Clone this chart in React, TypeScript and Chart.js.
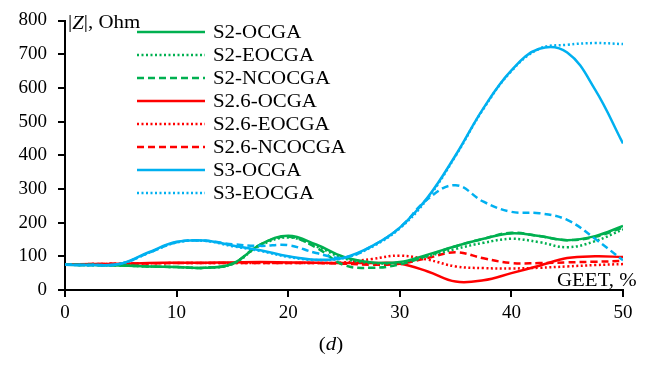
import { useEffect, useRef } from "react";
import { Chart, registerables } from "chart.js";

Chart.register(...registerables);

// GEET content, %
const geet = [0, 2.5, 5, 7.5, 10, 12.5, 15, 17.5, 20, 22.5, 25, 27.5, 30, 32.5, 35, 37.5, 40, 42.5, 45, 47.5, 50];

// |Z|, Ohm
const s2Ocga = [75, 74, 73, 70, 68, 66, 78, 135, 161, 135, 98, 82, 83, 105, 130, 152, 168, 160, 148, 160, 190];
const s2Eocga = [75, 74, 73, 70, 68, 66, 77, 132, 156, 130, 94, 80, 82, 100, 122, 140, 152, 142, 127, 145, 180];
const s2Ncocga = [75, 74, 73, 70, 68, 66, 78, 135, 158, 126, 74, 66, 76, 102, 130, 152, 170, 160, 148, 158, 185];
const s26Ocga = [76, 77, 78, 80, 81, 81, 82, 83, 82, 81, 80, 80, 78, 55, 25, 29, 50, 72, 95, 100, 98];
const s26Eocga = [76, 77, 78, 79, 80, 80, 80, 80, 80, 80, 82, 92, 102, 90, 70, 65, 64, 66, 70, 74, 77];
const s26Ncocga = [76, 77, 78, 79, 80, 80, 80, 80, 80, 80, 78, 75, 78, 95, 112, 94, 80, 80, 82, 84, 86];
const s3Ocga = [75, 74, 78, 112, 143, 147, 132, 118, 100, 90, 96, 130, 185, 275, 400, 540, 652, 716, 705, 595, 435];
const s3Eocga = [75, 74, 78, 110, 141, 146, 130, 116, 98, 89, 95, 128, 183, 272, 398, 538, 650, 716, 728, 733, 730];
const s3Ncocga = [75, 74, 78, 110, 142, 146, 136, 131, 133, 110, 96, 130, 185, 270, 311, 262, 232, 228, 208, 152, 88];

const xTicks = [0, 10, 20, 30, 40, 50];
const yTicks = [0, 100, 200, 300, 400, 500, 600, 700, 800];

const GREEN = "#00B050";
const RED = "#FF0000";
const BLUE = "#00B0F0";
const SERIF = '"Liberation Serif", "Times New Roman", serif';
const FONT_SIZE = 19;
const TEXT_STRETCH = 1.1;

const SOLID: number[] = [];
const DOTTED = [2, 2.5];
const DASHED = [7, 4];

type Series = { label: string; values: number[]; color: string; dash: number[]; inLegend: boolean; order: number };

const series: Series[] = [
  { label: "S2-OCGA", values: s2Ocga, color: GREEN, dash: SOLID, inLegend: true, order: 2 },
  { label: "S2-EOCGA", values: s2Eocga, color: GREEN, dash: DOTTED, inLegend: true, order: 2 },
  { label: "S2-NCOCGA", values: s2Ncocga, color: GREEN, dash: DASHED, inLegend: true, order: 2 },
  { label: "S2.6-OCGA", values: s26Ocga, color: RED, dash: SOLID, inLegend: true, order: 3 },
  { label: "S2.6-EOCGA", values: s26Eocga, color: RED, dash: DOTTED, inLegend: true, order: 3 },
  { label: "S2.6-NCOCGA", values: s26Ncocga, color: RED, dash: DASHED, inLegend: true, order: 3 },
  { label: "S3-OCGA", values: s3Ocga, color: BLUE, dash: SOLID, inLegend: true, order: 1 },
  { label: "S3-EOCGA", values: s3Eocga, color: BLUE, dash: DOTTED, inLegend: true, order: 1 },
  { label: "S3-NCOCGA", values: s3Ncocga, color: BLUE, dash: DASHED, inLegend: false, order: 1 },
];

type Run = { text: string; italic?: boolean };

// Draws a line of mixed upright/italic text, slightly widened like the figure's serif face.
function drawRuns(ctx: CanvasRenderingContext2D, x: number, y: number, runs: Run[], align: "left" | "center" = "left") {
  const fontFor = (r: Run) => `${r.italic ? "italic " : ""}${FONT_SIZE}px ${SERIF}`;
  let total = 0;
  for (const r of runs) {
    ctx.font = fontFor(r);
    total += ctx.measureText(r.text).width;
  }
  ctx.save();
  ctx.translate(x, y);
  ctx.scale(TEXT_STRETCH, 1);
  let cx = align === "center" ? -total / 2 : 0;
  ctx.textAlign = "left";
  ctx.textBaseline = "middle";
  ctx.fillStyle = "#000";
  for (const r of runs) {
    ctx.font = fontFor(r);
    ctx.fillText(r.text, cx, 0);
    cx += ctx.measureText(r.text).width;
  }
  ctx.restore();
}

const labelsPlugin = {
  id: "labels",
  afterDraw(chart: Chart) {
    const ctx = chart.ctx;
    const area = chart.chartArea;
    ctx.save();

    // axis titles and panel caption
    drawRuns(ctx, area.left + 3, area.top + 3, [{ text: "|" }, { text: "Z", italic: true }, { text: "|, Ohm" }]);
    drawRuns(ctx, 557, area.bottom - 9, [{ text: "GEET, %" }]);
    drawRuns(ctx, 331, 345, [{ text: "(" }, { text: "d", italic: true }, { text: ")" }], "center");

    // legend
    const x0 = 137;
    const x1 = 205;
    const rowTop = 32;
    const rowStep = 23;
    let row = 0;
    for (const s of series) {
      if (!s.inLegend) continue;
      const y = rowTop + row * rowStep;
      ctx.beginPath();
      ctx.setLineDash(s.dash);
      ctx.lineWidth = 2.5;
      ctx.strokeStyle = s.color;
      ctx.moveTo(x0, y);
      ctx.lineTo(x1, y);
      ctx.stroke();
      ctx.setLineDash([]);
      drawRuns(ctx, 213, y + 1, [{ text: s.label }]);
      row++;
    }
    ctx.restore();
  },
};

export default function App() {
  const canvasRef = useRef<HTMLCanvasElement | null>(null);

  useEffect(() => {
    document.body.style.margin = "0";
    const canvas = canvasRef.current;
    if (!canvas) return;

    const tickFont = { family: SERIF, size: FONT_SIZE, lineHeight: 1 };

    const chart = new Chart(canvas, {
      type: "line",
      data: {
        datasets: series.map((s) => ({
          label: s.label,
          data: geet.map((g, i) => ({ x: g, y: s.values[i] })),
          borderColor: s.color,
          backgroundColor: s.color,
          borderDash: s.dash,
          borderWidth: 2.5,
          pointRadius: 0,
          tension: 0.4,
          fill: false,
          order: s.order,
        })),
      },
      options: {
        animation: false,
        responsive: false,
        layout: { padding: { top: 10, right: 42, left: 0, bottom: 0 } },
        plugins: { legend: { display: false }, tooltip: { enabled: false } },
        scales: {
          x: {
            type: "linear",
            min: 0,
            max: 50,
            afterBuildTicks: (scale: any) => {
              scale.ticks = xTicks.map((v) => ({ value: v }));
            },
            ticks: { font: tickFont, color: "#000", padding: 7, maxRotation: 0 },
            grid: { drawOnChartArea: false, tickLength: 7, tickColor: "#000", lineWidth: 2 },
            border: { color: "#000", width: 2 },
            afterFit: (scale: any) => {
              scale.height = 81;
            },
          },
          y: {
            type: "linear",
            min: 0,
            max: 800,
            afterBuildTicks: (scale: any) => {
              scale.ticks = yTicks.map((v) => ({ value: v }));
            },
            ticks: { font: tickFont, color: "#000", padding: 11 },
            grid: { drawOnChartArea: false, tickLength: 7, tickColor: "#000", lineWidth: 2 },
            border: { color: "#000", width: 2 },
            afterFit: (scale: any) => {
              scale.width = 65;
            },
          },
        },
      },
      plugins: [labelsPlugin],
    });

    return () => chart.destroy();
  }, []);

  return (
    <div style={{ width: 665, height: 371, background: "#fff" }}>
      <canvas ref={canvasRef} width={665} height={371} style={{ display: "block" }} />
    </div>
  );
}
